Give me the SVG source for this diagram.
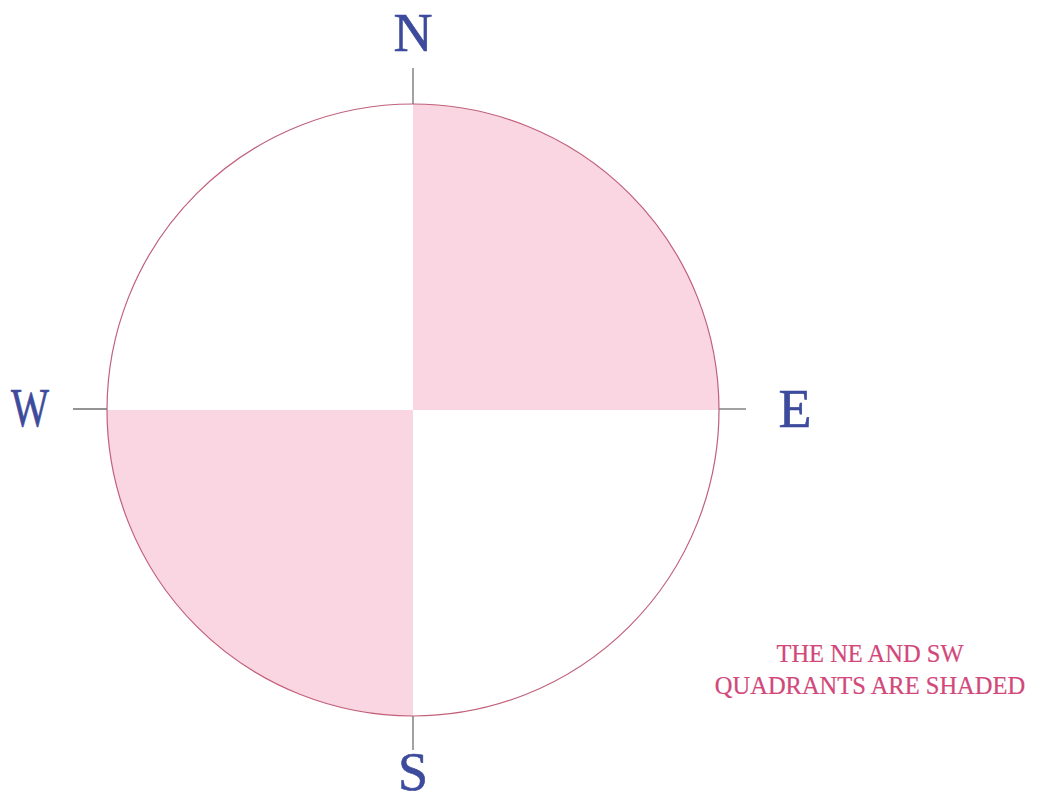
<svg xmlns="http://www.w3.org/2000/svg" width="1045" height="802" viewBox="0 0 1045 802">
<style>
.lbl{font-family:"Liberation Serif","Times New Roman",serif;font-size:54px;fill:#3d4b9c;stroke:#3d4b9c;stroke-width:0.6;text-anchor:middle}
.cap{font-family:"Liberation Serif","Times New Roman",serif;font-size:24.5px;fill:#d2487a;stroke:#d2487a;stroke-width:0.2;text-anchor:middle}
.tick{stroke:#707070;stroke-width:1.3;fill:none}
.quad{fill:#f9d6e2;stroke:none}
</style>
<rect width="1045" height="802" fill="#ffffff"/>
<g id="shading">
<path class="quad" d="M413 410 V104 A306 306 0 0 1 719 410 Z"/>
<path class="quad" d="M413 410 V716 A306 306 0 0 1 107 410 Z"/>
</g>
<g id="circle">
<circle cx="413" cy="410" r="306" fill="none" stroke="#c0607a" stroke-width="1.2"/>
</g>
<g id="connectors">
<line class="tick" x1="413" y1="68" x2="413" y2="104"/>
<line class="tick" x1="413" y1="716" x2="413" y2="750"/>
<line class="tick" x1="73" y1="409" x2="107" y2="409"/>
<line class="tick" x1="719" y1="409" x2="746" y2="409"/>
</g>
<g id="N"><text class="lbl" x="413" y="51">N</text></g>
<g id="S"><text class="lbl" x="413" y="790">S</text></g>
<g id="W"><text class="lbl" x="30" y="426" textLength="38" lengthAdjust="spacingAndGlyphs">W</text></g>
<g id="E"><text class="lbl" x="795" y="427">E</text></g>
<g id="caption">
<text class="cap" x="870" y="662">THE NE AND SW</text>
<text class="cap" x="870" y="694">QUADRANTS ARE SHADED</text>
</g>
</svg>
